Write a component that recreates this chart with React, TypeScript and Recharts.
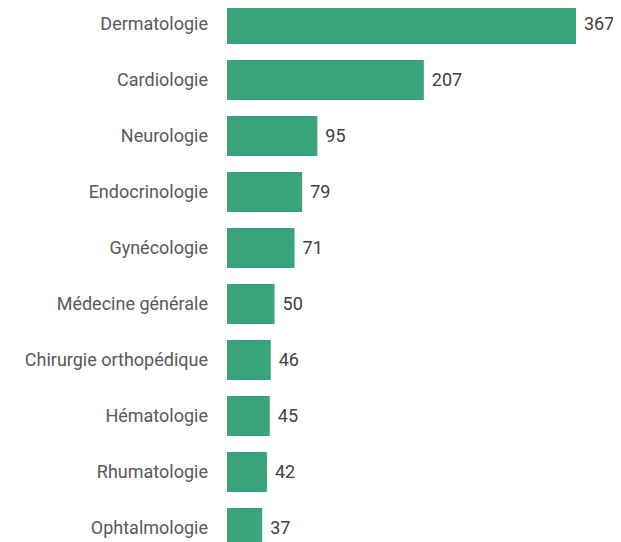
import React from "react";
import { Bar, BarChart, LabelList, XAxis, YAxis } from "recharts";

const specialites = [
  "Dermatologie",
  "Cardiologie",
  "Neurologie",
  "Endocrinologie",
  "Gynécologie",
  "Médecine générale",
  "Chirurgie orthopédique",
  "Hématologie",
  "Rhumatologie",
  "Ophtalmologie",
];

const effectifs = [367, 207, 95, 79, 71, 50, 46, 45, 42, 37];

const data = specialites.map((nom, i) => ({ nom, total: effectifs[i] }));

const App = () => {
  return (
    <div style={{ marginLeft: -8, marginTop: -12, fontFamily: "Roboto" }}>
      <BarChart
        width={621}
        height={560}
        data={data}
        layout="vertical"
        barCategoryGap={8}
        margin={{ top: 0, right: 45, bottom: 0, left: 0 }}
      >
        <XAxis type="number" hide domain={[0, 367]} />
        <YAxis
          type="category"
          dataKey="nom"
          width={227}
          axisLine={false}
          tickLine={false}
          tickSize={0}
          tickMargin={19}
          interval={0}
          tick={{ fill: "#595959", fontSize: 18, fontFamily: "Roboto" }}
        />
        <Bar dataKey="total" fill="#3aa57d" isAnimationActive={false}>
          <LabelList
            dataKey="total"
            position="right"
            offset={8}
            fill="#404040"
            fontSize={18}
            fontFamily="Roboto"
          />
        </Bar>
      </BarChart>
    </div>
  );
};

export default App;
